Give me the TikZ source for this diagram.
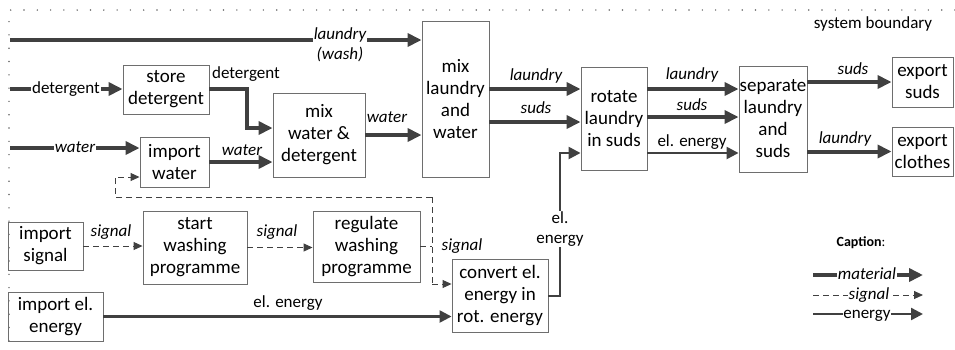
\documentclass[tikz,border=0pt]{standalone}
\usepackage{fontspec}
\setmainfont{Carlito}
\usetikzlibrary{arrows.meta}
\definecolor{arr}{RGB}{64,64,64}
\definecolor{bx}{RGB}{110,110,110}
\tikzset{
  box/.style={draw=bx, line width=0.9pt, align=center, inner sep=0.5pt, font=\fontsize{19}{22}\selectfont, text=black},
  lab/.style={font=\fontsize{17}{20}\selectfont\itshape, inner sep=1pt, align=center},
  labu/.style={font=\fontsize{17}{20}\selectfont, inner sep=1pt, align=center},
  mat/.style={draw=arr, line width=4pt, -{Triangle[length=14pt,width=13pt]}},
  en/.style={draw=arr, line width=2.4pt, -{Triangle[length=12pt,width=12pt]}},
  sig/.style={draw=arr, line width=1pt, dash pattern=on 6pt off 4pt},
  sigarr/.style={sig, -{Triangle[length=9pt,width=8pt]}},
  bnd/.style={draw=arr!80, line width=1.6pt, line cap=round, dash pattern=on 0pt off 13.3pt}
}
\begin{document}
\begin{tikzpicture}[x=1pt,y=-1pt]
\useasboundingbox (0,0) rectangle (955,349);
% system boundary
\draw[bnd] (955,10) -- (9,10) -- (9,349);
\node[labu] (sbt) at (873,24) {system boundary};

% boxes
\node[box,minimum width=86pt,minimum height=49pt] (sd) at (166,89.5) {store\\detergent};
\node[box,minimum width=69pt,minimum height=50pt] (iw) at (174.5,162) {import\\water};
\node[box,minimum width=92pt,minimum height=84pt] (mwd) at (319,135) {mix\\water \&\\detergent};
\node[box,minimum width=67pt,minimum height=156pt] (mlw) at (455.5,99) {mix\\laundry\\and\\water};
\node[box,minimum width=66pt,minimum height=103pt] (rot) at (614,118.5) {rotate\\laundry\\in suds};
\node[box,minimum width=68pt,minimum height=106pt] (sep) at (773,119) {separate\\laundry\\and\\suds};
\node[box,minimum width=61pt,minimum height=50pt] (es) at (922.5,82) {export\\suds};
\node[box,minimum width=61pt,minimum height=49pt] (ec) at (922.5,151.5) {export\\clothes};
\node[box,minimum width=75pt,minimum height=48pt] (is) at (45.5,246) {import\\signal};
\node[box,minimum width=104pt,minimum height=73pt] (sw) at (195,247.5) {start\\washing\\programme};
\node[box,minimum width=107pt,minimum height=71pt] (rw) at (366.5,246.5) {regulate\\washing\\programme};
\node[box,minimum width=95pt,minimum height=49pt] (ie) at (55.5,316.5) {import el.\\energy};
\node[box,minimum width=96pt,minimum height=73pt] (conv) at (500,295.5) {convert el.\\energy in\\rot. energy};

% helper coordinates
\coordinate (inW) at (10,40);
\coordinate (inD) at (10,89);
\coordinate (inWa) at (10,148);
\coordinate (k1) at (247,89);
\coordinate (k2) at (247,128);
\coordinate (yw) at (0,162);
\coordinate (yl) at (0,89);
\coordinate (ys) at (0,122);
\coordinate (ys2) at (0,117);
\coordinate (ye) at (0,153);
\coordinate (c1) at (560,296);
\coordinate (c2) at (560,153);
\coordinate (jr) at (432,246.5);
\coordinate (jt) at (432,197);
\coordinate (jb) at (432,284);
\coordinate (jl) at (115,197);
\coordinate (ju) at (115,177);

% material flows
\draw[mat] (inW) -- (mlw.west |- inW);
\node[lab, fill=white] (lw) at (340,45) {laundry\\(wash)};
\draw[mat] (inD) -- (sd.west |- inD);
\node[labu, fill=white, anchor=base] (ld) at (66,93.5) {detergent};
\draw[mat] (sd.east |- inD) -- (k1) -- (k2) -- (mwd.west |- k2);
\node[labu] (ld2) at (246,74) {detergent};
\draw[mat] (inWa) -- (iw.west |- inWa);
\node[lab, fill=white, anchor=base] (lwa) at (75,152.5) {water};
\draw[mat] (iw.east |- yw) -- (mwd.west |- yw);
\node[lab] (lwa2) at (242,150) {water};
\draw[mat] (mwd.east) -- (mlw.west |- mwd.east);
\node[lab] (lwa3) at (387,117) {water};
\draw[mat] (mlw.east |- yl) -- (rot.west |- yl);
\node[lab] (ll1) at (536,76) {laundry};
\draw[mat] (mlw.east |- ys) -- (rot.west |- ys);
\node[lab] (ls1) at (536,108) {suds};
\draw[mat] (rot.east |- yl) -- (sep.west |- yl);
\node[lab] (ll2) at (692,75) {laundry};
\draw[mat] (rot.east |- ys2) -- (sep.west |- ys2);
\node[lab] (ls2) at (692,105) {suds};
\draw[en] (rot.east |- ye) -- (sep.west |- ye);
\node[labu] (le2) at (692,142) {el. energy};
\draw[mat] (sep.east |- es.west) -- (es.west);
\node[lab] (ls3) at (853,69) {suds};
\draw[mat] (sep.east |- ec.west) -- (ec.west);
\node[lab] (ll3) at (845,139) {laundry};

% energy flows
\draw[en] (ie.east) -- (conv.west |- ie.east);
\node[labu] (le1) at (288,303) {el. energy};
\draw[en] (conv.east |- c1) -- (c1) -- (c2) -- (rot.west |- c2);
\node[labu, fill=white] (le3) at (560,229) {el.\\energy};

% signal flows
\draw[sigarr] (is.east) -- (sw.west |- is.east);
\node[lab] (lsg1) at (111,232) {signal};
\draw[sigarr] (sw.east) -- (rw.west |- sw.east);
\node[lab] (lsg2) at (277,232) {signal};
\draw[sig] (rw.east) -- (jr);
\draw[sig] (jt) -- (jb);
\draw[sigarr] (jb) -- (conv.west |- jb);
\draw[sigarr] (jt) -- (jl) -- (ju) -- (iw.west |- ju);
\node[lab] (lsg3) at (462,246) {signal};

% caption
\node[font=\fontsize{14}{16}\selectfont] (cap) at (861,243) {\textbf{Caption}:};
\coordinate (m1) at (813,275); \coordinate (m2) at (923,275);
\coordinate (s1) at (813,295); \coordinate (s2) at (923,295);
\coordinate (e1) at (813,314); \coordinate (e2) at (923,314);
\draw[mat] (m1) -- (m2);
\node[lab, fill=white, inner sep=0.5pt, anchor=base] (lm) at (867,279.5) {material};
\draw[sigarr] (s1) -- (s2);
\node[lab, fill=white, inner sep=0.5pt, anchor=base] (lsg) at (869,299.5) {signal};
\draw[en] (e1) -- (e2);
\node[labu, fill=white, inner sep=0.5pt, anchor=base] (len) at (867,318.5) {energy};
\end{tikzpicture}
\end{document}
